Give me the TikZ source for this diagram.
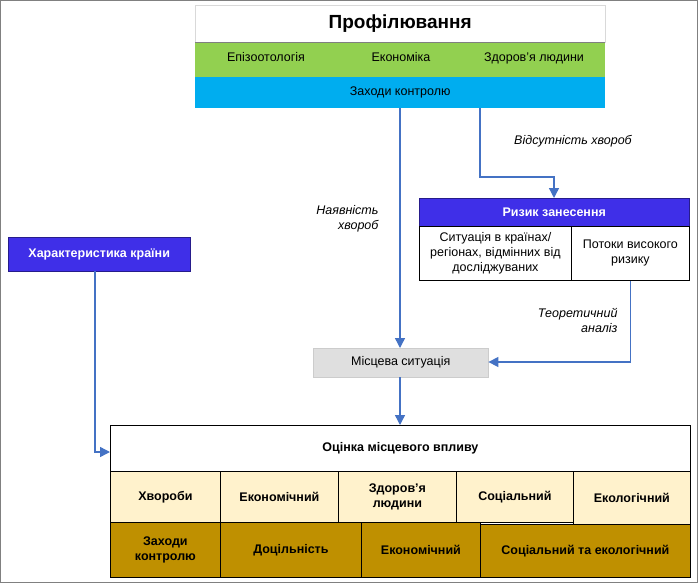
\documentclass[tikz,border=0pt]{standalone}
\usepackage{fontspec}
\setmainfont{Liberation Sans}
\usetikzlibrary{arrows.meta}
\begin{document}
\begin{tikzpicture}[x=1pt,y=-1pt,
  bx/.style={draw=black,line width=0.8pt,inner sep=0pt,align=center,font=\fontsize{12.5}{15}\selectfont},
  lt/.style={bx,fill=lightf,font=\fontsize{12.5}{15}\selectfont\bfseries},
  dk/.style={bx,fill=goldd,font=\fontsize{12.5}{15}\selectfont\bfseries},
  ar/.style={draw=arrblue,line width=1.4pt,-{Triangle[length=10pt,width=10pt]}},
  lab/.style={font=\fontsize{12.5}{15}\selectfont\itshape,align=right}]
\definecolor{goldd}{HTML}{BF9000}
\definecolor{lightf}{HTML}{FFF2CC}
\definecolor{grnf}{HTML}{92D050}
\definecolor{arrblue}{HTML}{4472C4}
\definecolor{vio}{HTML}{3F2FE8}
\useasboundingbox (0,0) rectangle (698,583);
\draw[gray,line width=1pt] (0.5,0.5) rectangle (697.5,582.5);
% profiling
\node[draw=gray!30,fill=white,minimum width=410pt,minimum height=37pt,anchor=north west,inner sep=0pt,font=\fontsize{19}{22}\selectfont\bfseries] (prof) at (195,5) {Профілювання};
\node[fill=grnf,minimum width=410pt,minimum height=35pt,anchor=north west,inner sep=0pt] (grn) at (195,42) {};
\node[fill=cyan,minimum width=410pt,minimum height=31pt,anchor=north west,inner sep=0pt,font=\fontsize{12.5}{15}\selectfont] (cyn) at (195,77) {Заходи контролю};
\draw[gray] (195,42) -- (605,42);
\node[font=\fontsize{12.5}{15}\selectfont,text height=9pt,text depth=3pt] (e1) at (266,59) {Епізоотологія};
\node[font=\fontsize{12.5}{15}\selectfont,text height=9pt,text depth=3pt] (e2) at (401,59) {Економіка};
\node[font=\fontsize{12.5}{15}\selectfont,text height=9pt,text depth=3pt] (e3) at (534,59) {Здоров'я людини};
% risk
\node[fill=vio,draw=vio!60!black,minimum width=270pt,minimum height=28pt,anchor=north west,inner sep=0pt,text=white,font=\fontsize{12.5}{15}\selectfont\bfseries] (risk) at (419,198) {Ризик занесення};
\node[bx,minimum width=152pt,minimum height=54pt,anchor=north west] (sit) at (419,226) {Ситуація в країнах/\\регіонах, відмінних від\\досліджуваних};
\node[bx,minimum width=118pt,minimum height=54pt,anchor=north west] (flow) at (571,226) {Потоки високого\\ризику};
% country
\node[fill=vio,draw=vio!60!black,minimum width=182pt,minimum height=34pt,anchor=north west,inner sep=0pt,text=white,font=\fontsize{12.5}{15}\selectfont\bfseries] (ctry) at (8,237) {Характеристика країни};
% local
\node[fill=gray!25,draw=gray!40,minimum width=175pt,minimum height=29pt,anchor=north west,inner sep=0pt,font=\fontsize{12.5}{15}\selectfont] (loc) at (313,348) {Місцева ситуація};
% assessment
\node[bx,minimum width=580pt,minimum height=46pt,anchor=north west,font=\fontsize{12.5}{15}\selectfont\bfseries] (ass) at (110,425) {Оцінка місцевого впливу};
\node[lt,minimum width=110pt,minimum height=51pt,anchor=north west] (a1) at (110,471) {Хвороби};
\node[lt,minimum width=118pt,minimum height=51pt,anchor=north west] (a2) at (220,471) {Економічний};
\node[lt,minimum width=118pt,minimum height=51pt,anchor=north west] (a3) at (338,471) {Здоров'я\\людини};
\node[lt,minimum width=117pt,minimum height=51pt,anchor=north west] (a4) at (456,471) {Соціальний};
\node[lt,minimum width=117pt,minimum height=53pt,anchor=north west] (a5) at (573,471) {Екологічний};
\node[dk,minimum width=110pt,minimum height=55pt,anchor=north west] (b1) at (110,522) {Заходи\\контролю};
\node[dk,minimum width=141pt,minimum height=55pt,anchor=north west] (b2) at (220,522) {Доцільність};
\node[dk,minimum width=119pt,minimum height=55pt,anchor=north west] (b3) at (361,522) {Економічний};
\node[dk,minimum width=210pt,minimum height=53pt,anchor=north west] (b4) at (480,524) {Соціальний та екологічний};
% connectors
\coordinate (c1) at (400,108);
\coordinate (c2) at (480,108);
\draw[ar] (c1) -- (loc.north -| c1);
\draw[ar] (c2) |- (554,177) -- (risk.north -| 554,0);
\draw[ar] (flow.south) |- (loc.east |- 0,362);
\draw[ar] (ctry.south -| 95,0) |- (ass.west |- 0,452);
\draw[ar] (loc.south -| c1) -- (ass.north -| c1);
\node[lab,anchor=east] (l1) at (382,219) {Наявність\\хвороб};
\node[lab] (l2) at (573,141) {Відсутність хвороб};
\node[lab,anchor=east] (l3) at (621,320) {Теоретичний\\аналіз};
\end{tikzpicture}
\end{document}
